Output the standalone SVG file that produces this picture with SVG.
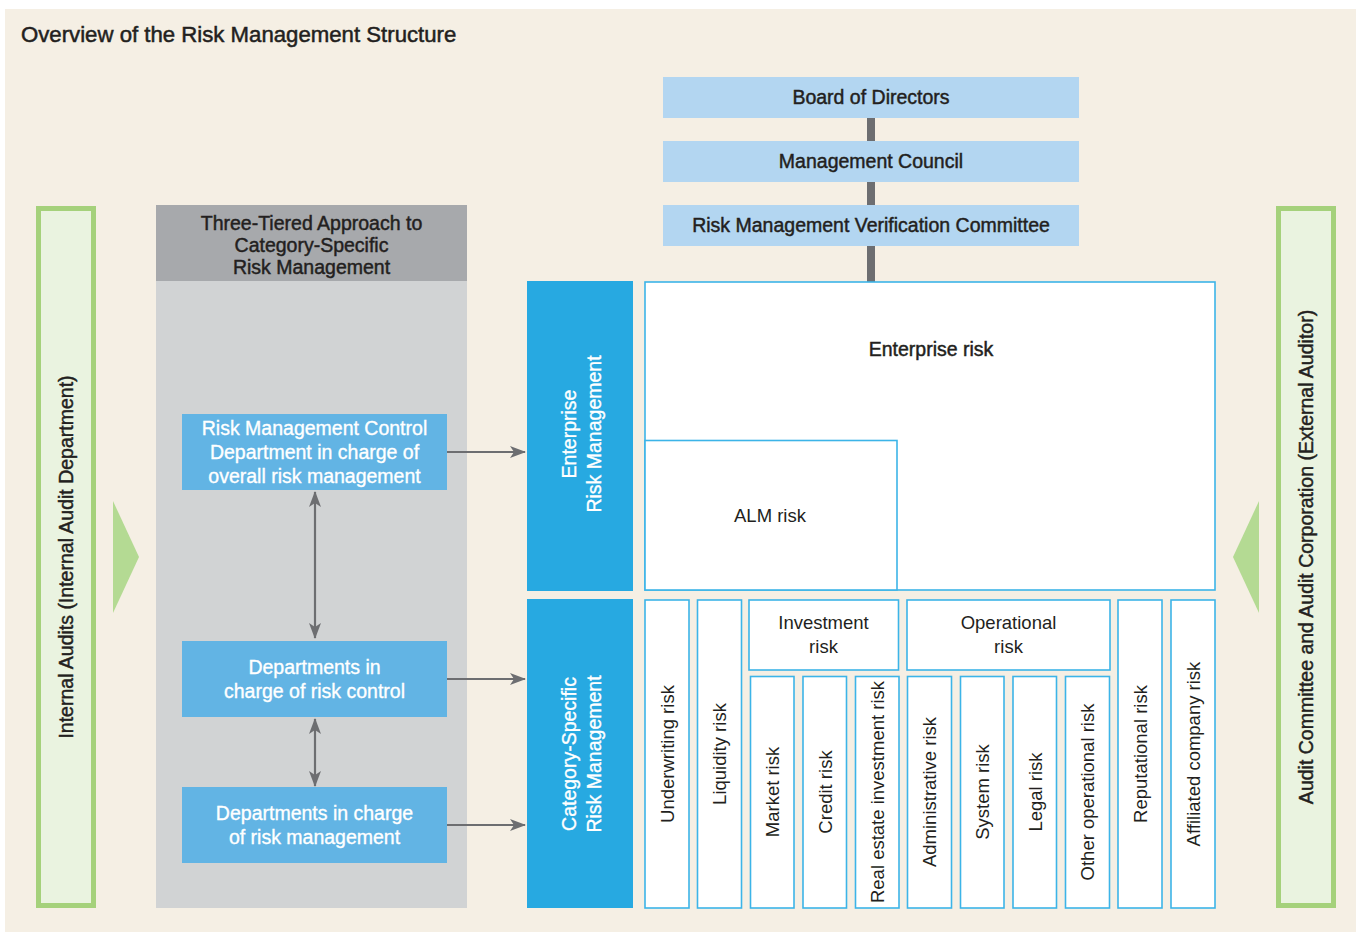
<svg xmlns="http://www.w3.org/2000/svg" width="1356" height="932" viewBox="0 0 1356 932">
  <defs>
    <style>
      text { font-family: "Liberation Sans", Arial, sans-serif; fill: #231f20; }
      .med { font-size: 19.5px; stroke: #231f20; stroke-width: 0.45px; }
      .medw { font-size: 19.5px; fill: #ffffff; stroke: #ffffff; stroke-width: 0.35px; }
      .reg { font-size: 18.5px; }
      .title { font-size: 22.2px; stroke: #231f20; stroke-width: 0.5px; }
      .c { text-anchor: middle; }
      .gov { fill: #b3d6f1; }
      .dept { fill: #62b4e4; }
      .tier { fill: #27a9e1; }
      .risk { fill: #ffffff; stroke: #3cb4e8; stroke-width: 1.6; }
      .audit { fill: #eaf3e0; stroke: #a5d17b; stroke-width: 5; }
      .wedge { fill: #b4da93; }
      .conn { stroke: #6d6e71; stroke-width: 2.2; fill: none; }
    </style>
    <marker id="head" viewBox="0 0 16 12" refX="15" refY="6" markerWidth="16" markerHeight="12" markerUnits="userSpaceOnUse" orient="auto-start-reverse">
      <path d="M0,0 L16,6 L0,12 L4,6 Z" fill="#6d6e71"/>
    </marker>
  </defs>

  <!-- page and panel -->
  <rect x="0" y="0" width="1356" height="932" fill="#ffffff"/>
  <rect x="5" y="9" width="1351" height="923" fill="#f5efe4"/>
  <text class="title" x="21" y="42">Overview of the Risk Management Structure</text>

  <!-- governance spine behind the committee boxes -->
  <g id="spine">
    <line x1="871" y1="100" x2="871" y2="282" stroke="#6d6e71" stroke-width="8"/>
  </g>

  <g id="board">
    <rect class="gov" x="663" y="77" width="416" height="41"/>
    <text class="med c" x="871" y="104">Board of Directors</text>
  </g>
  <g id="management-council">
    <rect class="gov" x="663" y="141" width="416" height="41"/>
    <text class="med c" x="871" y="168">Management Council</text>
  </g>
  <g id="verification-committee">
    <rect class="gov" x="663" y="205" width="416" height="41"/>
    <text class="med c" x="871" y="232">Risk Management Verification Committee</text>
  </g>

  <!-- audit columns -->
  <g id="internal-audit">
    <rect class="audit" x="38.5" y="208.5" width="55" height="697"/>
    <text class="med c" transform="translate(66 557) rotate(-90)" y="7">Internal Audits (Internal Audit Department)</text>
    <polygon class="wedge" points="113,501 139,557 113,613"/>
  </g>
  <g id="external-audit">
    <rect class="audit" x="1278.5" y="208.5" width="55" height="697"/>
    <text class="med c" transform="translate(1306 557) rotate(-90)" y="7">Audit Committee and Audit Corporation (External Auditor)</text>
    <polygon class="wedge" points="1259,501 1233,557 1259,613"/>
  </g>

  <!-- three-tiered approach column -->
  <g id="three-tiered">
    <rect x="156" y="205" width="311" height="76" fill="#a7a9ac"/>
    <rect x="156" y="281" width="311" height="627" fill="#d1d3d4"/>
    <text class="med c" x="311.5" y="230">Three-Tiered Approach to</text>
    <text class="med c" x="311.5" y="252">Category-Specific</text>
    <text class="med c" x="311.5" y="274">Risk Management</text>
  </g>
  <g id="risk-control-dept">
    <rect class="dept" x="182" y="414" width="265" height="76"/>
    <text class="medw c" x="314.5" y="435">Risk Management Control</text>
    <text class="medw c" x="314.5" y="459">Department in charge of</text>
    <text class="medw c" x="314.5" y="483">overall risk management</text>
  </g>
  <g id="risk-control-depts">
    <rect class="dept" x="182" y="641" width="265" height="76"/>
    <text class="medw c" x="314.5" y="674">Departments in</text>
    <text class="medw c" x="314.5" y="698">charge of risk control</text>
  </g>
  <g id="risk-management-depts">
    <rect class="dept" x="182" y="787" width="265" height="76"/>
    <text class="medw c" x="314.5" y="820">Departments in charge</text>
    <text class="medw c" x="314.5" y="844">of risk management</text>
  </g>

  <!-- management tiers -->
  <g id="enterprise-rm">
    <rect class="tier" x="527" y="281" width="106" height="310"/>
    <text class="medw c" transform="translate(580.5 434) rotate(-90)" y="-5">Enterprise</text>
    <text class="medw c" transform="translate(580.5 434) rotate(-90)" y="20">Risk Management</text>
  </g>
  <g id="category-rm">
    <rect class="tier" x="527" y="599" width="106" height="309"/>
    <text class="medw c" transform="translate(580.5 754) rotate(-90)" y="-5">Category-Specific</text>
    <text class="medw c" transform="translate(580.5 754) rotate(-90)" y="20">Risk Management</text>
  </g>

  <!-- enterprise risks -->
  <g id="enterprise-risk">
    <rect class="risk" x="645" y="282" width="570" height="308"/>
    <text class="med c" x="931" y="356">Enterprise risk</text>
  </g>
  <g id="alm-risk">
    <rect class="risk" x="645" y="440.5" width="252" height="149.5"/>
    <text class="reg c" x="770" y="522">ALM risk</text>
  </g>

  <!-- category-specific risks -->
  <g id="underwriting-risk">
    <rect class="risk" x="645" y="600" width="44" height="308"/>
    <text class="reg c" transform="translate(667 754) rotate(-90)" y="6.5">Underwriting risk</text>
  </g>
  <g id="liquidity-risk">
    <rect class="risk" x="697.5" y="600" width="44" height="308"/>
    <text class="reg c" transform="translate(719.5 754) rotate(-90)" y="6.5">Liquidity risk</text>
  </g>
  <g id="investment-risk">
    <rect class="risk" x="749" y="600" width="149.5" height="70"/>
    <text class="reg c" x="823.5" y="629">Investment</text>
    <text class="reg c" x="823.5" y="653">risk</text>
  </g>
  <g id="market-risk">
    <rect class="risk" x="750.5" y="676.5" width="43.5" height="231.5"/>
    <text class="reg c" transform="translate(772 792) rotate(-90)" y="6.5">Market risk</text>
  </g>
  <g id="credit-risk">
    <rect class="risk" x="803" y="676.5" width="43.5" height="231.5"/>
    <text class="reg c" transform="translate(825 792) rotate(-90)" y="6.5">Credit risk</text>
  </g>
  <g id="real-estate-risk">
    <rect class="risk" x="855.5" y="676.5" width="43.5" height="231.5"/>
    <text class="reg c" transform="translate(877 792) rotate(-90)" y="6.5">Real estate investment risk</text>
  </g>
  <g id="operational-risk">
    <rect class="risk" x="907" y="600" width="203" height="70"/>
    <text class="reg c" x="1008.5" y="629">Operational</text>
    <text class="reg c" x="1008.5" y="653">risk</text>
  </g>
  <g id="administrative-risk">
    <rect class="risk" x="907.5" y="676.5" width="44" height="231.5"/>
    <text class="reg c" transform="translate(929.5 792) rotate(-90)" y="6.5">Administrative risk</text>
  </g>
  <g id="system-risk">
    <rect class="risk" x="960.5" y="676.5" width="43.5" height="231.5"/>
    <text class="reg c" transform="translate(982 792) rotate(-90)" y="6.5">System risk</text>
  </g>
  <g id="legal-risk">
    <rect class="risk" x="1013" y="676.5" width="43.5" height="231.5"/>
    <text class="reg c" transform="translate(1035 792) rotate(-90)" y="6.5">Legal risk</text>
  </g>
  <g id="other-operational-risk">
    <rect class="risk" x="1065.5" y="676.5" width="44" height="231.5"/>
    <text class="reg c" transform="translate(1087.5 792) rotate(-90)" y="6.5">Other operational risk</text>
  </g>
  <g id="reputational-risk">
    <rect class="risk" x="1118" y="600" width="44" height="308"/>
    <text class="reg c" transform="translate(1140 754) rotate(-90)" y="6.5">Reputational risk</text>
  </g>
  <g id="affiliated-company-risk">
    <rect class="risk" x="1171" y="600" width="44" height="308"/>
    <text class="reg c" transform="translate(1193 754) rotate(-90)" y="6.5">Affiliated company risk</text>
  </g>

  <!-- connectors -->
  <g id="connectors">
    <line class="conn" x1="447" y1="452" x2="525" y2="452" marker-end="url(#head)"/>
    <line class="conn" x1="447" y1="679" x2="525" y2="679" marker-end="url(#head)"/>
    <line class="conn" x1="447" y1="825" x2="525" y2="825" marker-end="url(#head)"/>
    <line class="conn" x1="315" y1="492" x2="315" y2="638" marker-start="url(#head)" marker-end="url(#head)"/>
    <line class="conn" x1="315" y1="719" x2="315" y2="786" marker-start="url(#head)" marker-end="url(#head)"/>
  </g>
</svg>
